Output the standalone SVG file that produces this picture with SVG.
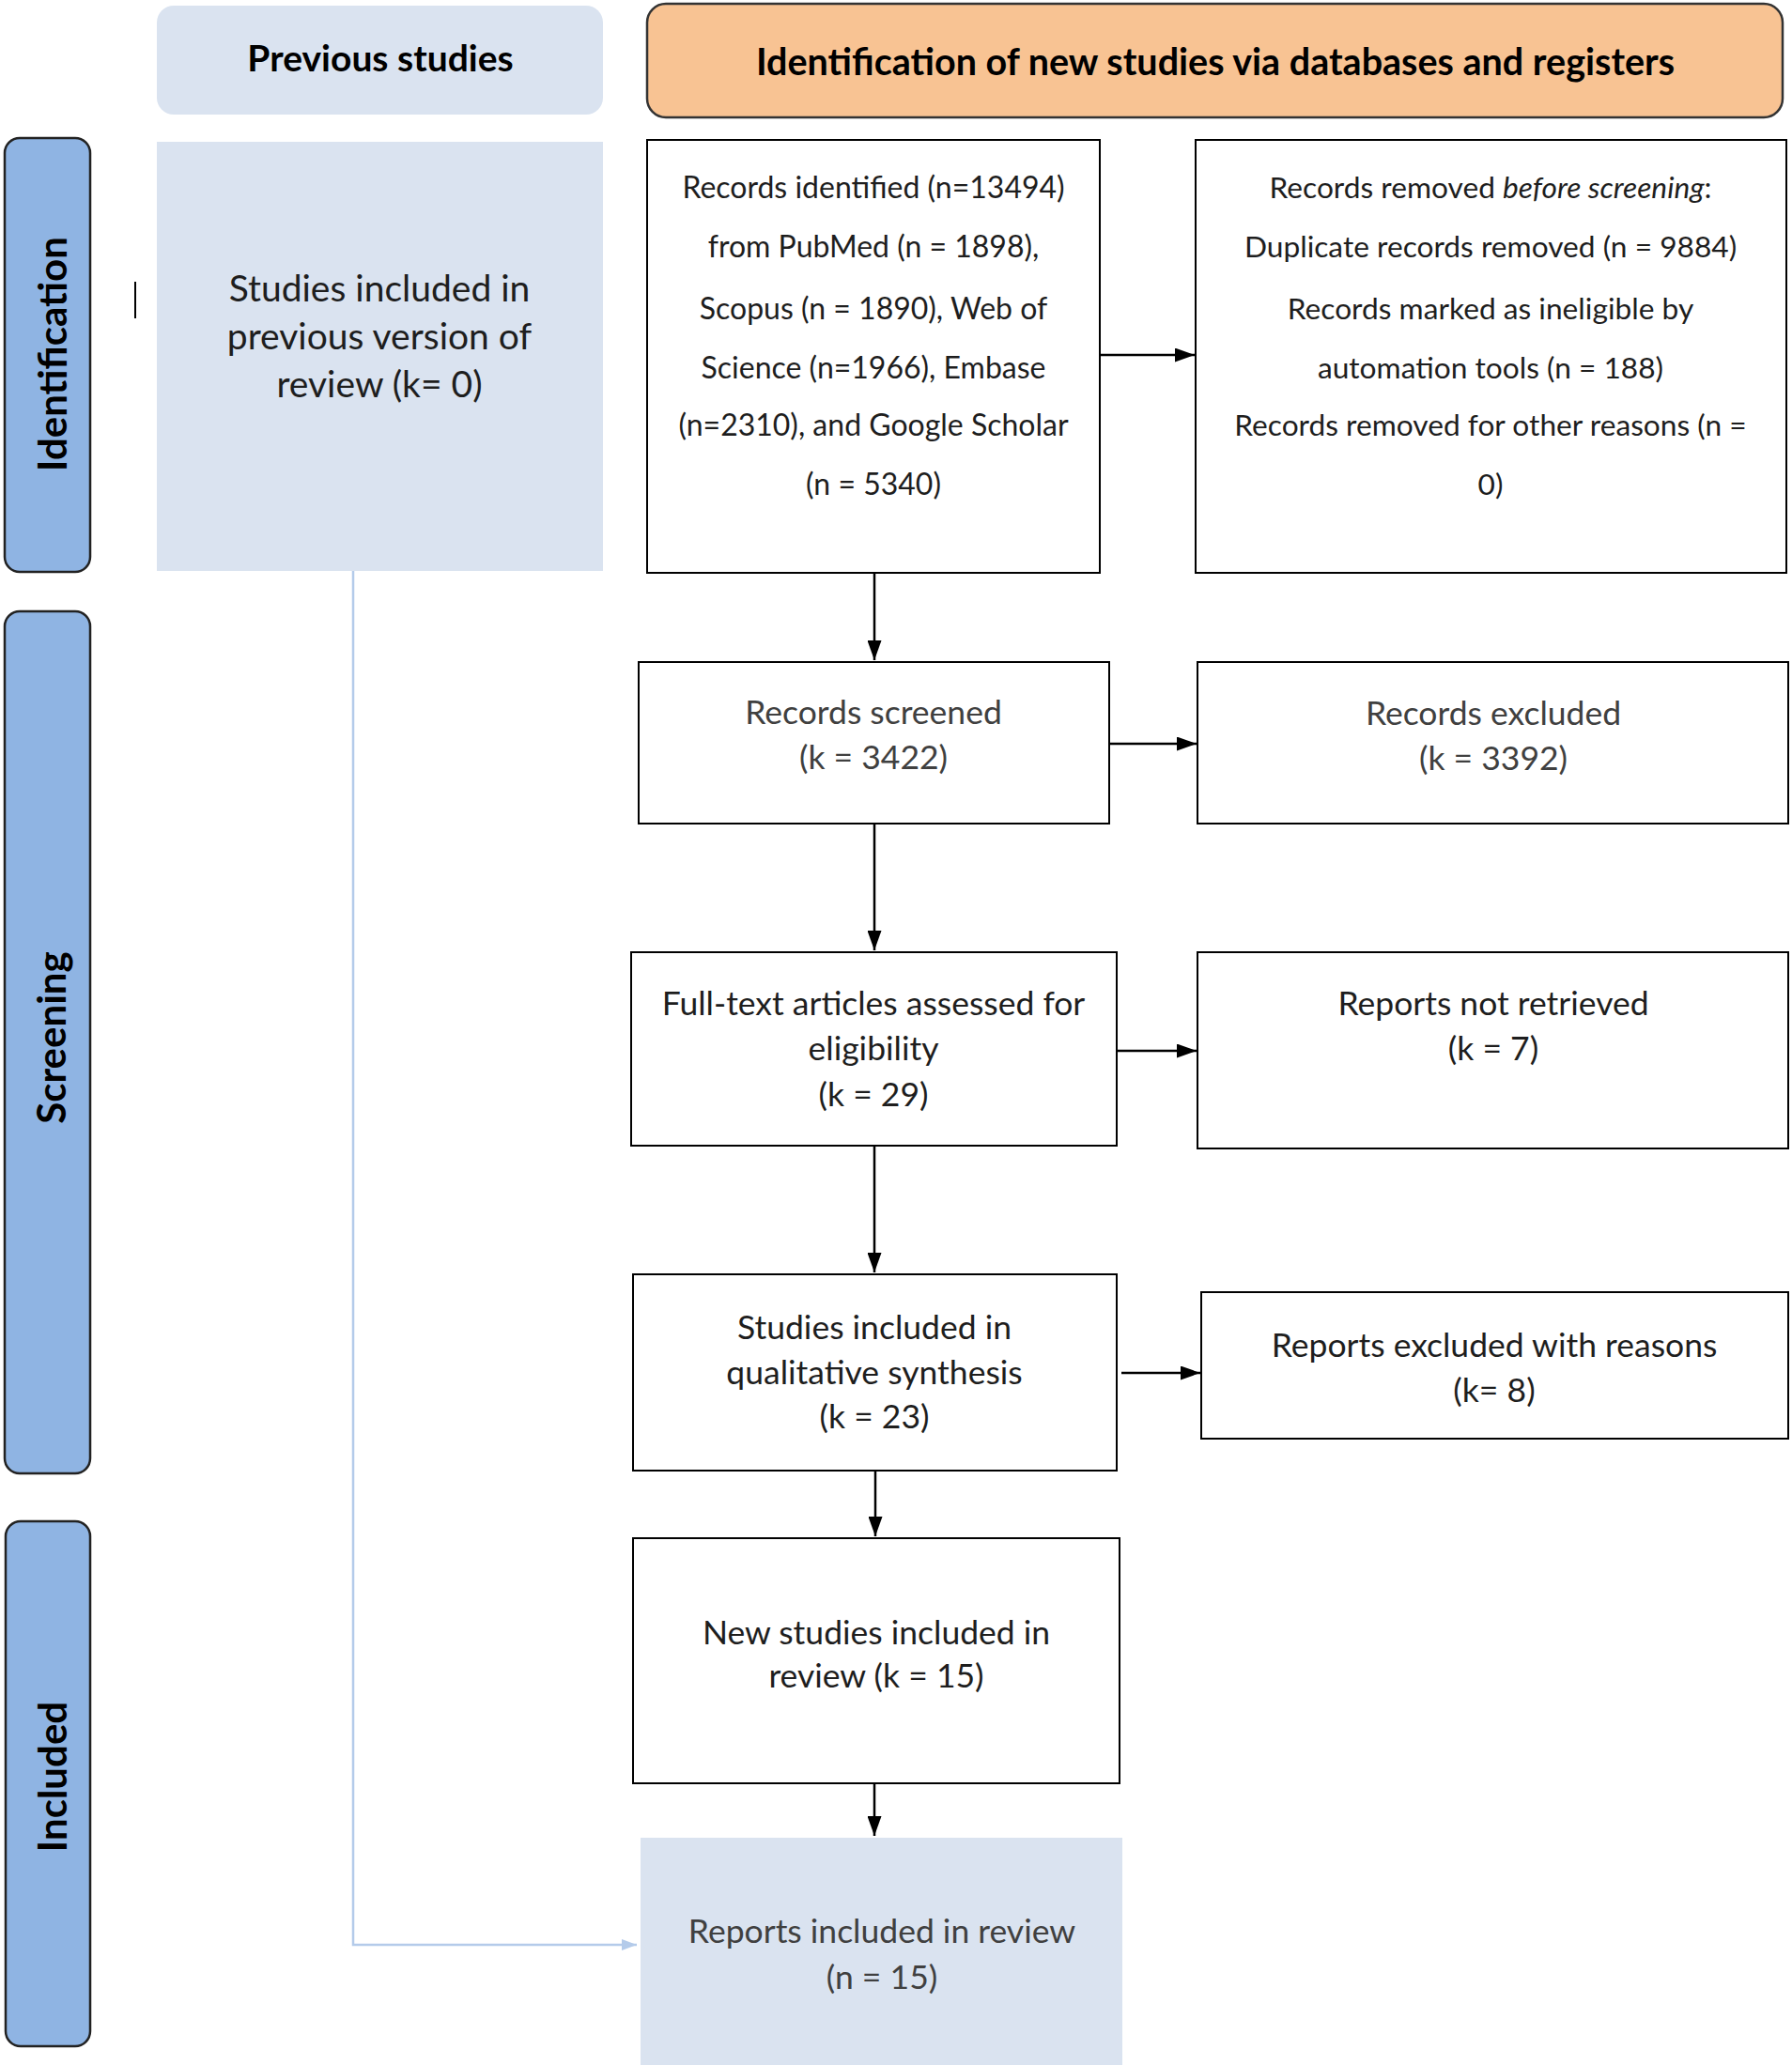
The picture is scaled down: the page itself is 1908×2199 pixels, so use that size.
<svg xmlns="http://www.w3.org/2000/svg" width="1908" height="2199" viewBox="0 0 1908 2199">
<defs>
<marker id="arr" markerUnits="userSpaceOnUse" markerWidth="21" markerHeight="15" viewBox="0 0 21 15" refX="21" refY="7.5" orient="auto"><path d="M0,0 L21,7.5 L0,15 z" fill="#000"/></marker>
<marker id="arrl" markerUnits="userSpaceOnUse" markerWidth="16" markerHeight="12" viewBox="0 0 16 12" refX="16" refY="6" orient="auto"><path d="M0,0 L16,6 L0,12 z" fill="#b4cbea"/></marker>
<style>
.t{font-family:Lato,"Open Sans","Liberation Sans",sans-serif;fill:#1e1e1e;text-anchor:middle}
.g{fill:#404040}
.b{font-weight:bold;fill:#000}
.box{fill:#fff;stroke:#000;stroke-width:2}
.lb{fill:#dae3f0}
.side{fill:#8fb4e3;stroke:#222;stroke-width:2.5}
.c{stroke:#000;stroke-width:2.5;fill:none}
</style>
</defs>
<rect width="1908" height="2199" fill="#fff"/>

<g id="side-identification">
<rect class="side" x="5" y="147" width="91" height="462" rx="16"/>
<text class="t b" font-size="42" transform="translate(71,377) rotate(-90)">Identification</text>
</g>
<g id="side-screening">
<rect class="side" x="5" y="651" width="91" height="918" rx="16"/>
<text class="t b" font-size="42" transform="translate(70,1105) rotate(-90)">Screening</text>
</g>
<g id="side-included">
<rect class="side" x="6" y="1620" width="90" height="559" rx="16"/>
<text class="t b" font-size="42" transform="translate(71,1892) rotate(-90)">Included</text>
</g>

<g id="hdr-previous">
<rect class="lb" x="167" y="6" width="475" height="116" rx="18"/>
<text class="t b" x="405" y="76" font-size="39">Previous studies</text>
</g>
<g id="hdr-new">
<rect x="689" y="4" width="1209" height="121" rx="20" fill="#f8c393" stroke="#333" stroke-width="2.5"/>
<text class="t b" x="1294" y="80" font-size="39.5">Identification of new studies via databases and registers</text>
</g>

<g id="prev-included">
<rect class="lb" x="167" y="151" width="475" height="457"/>
<text class="t" font-size="39" x="404" y="321">Studies included in</text>
<text class="t" font-size="39" x="404" y="372">previous version of</text>
<text class="t" font-size="39" x="404" y="423">review (k= 0)</text>
<line x1="144" y1="300" x2="144" y2="339" stroke="#000" stroke-width="2"/>
</g>

<g id="records-identified">
<rect class="box" x="689" y="149" width="482" height="461"/>
<g class="t" font-size="32">
<text x="930" y="210.5">Records identified (n=13494)</text>
<text x="930" y="273.5">from PubMed (n = 1898),</text>
<text x="930" y="339.5">Scopus (n = 1890), Web of</text>
<text x="930" y="402.5">Science (n=1966), Embase</text>
<text x="930" y="463.5">(n=2310), and Google Scholar</text>
<text x="930" y="526.5">(n = 5340)</text>
</g>
</g>

<g id="records-removed">
<rect class="box" x="1273" y="149" width="629" height="461"/>
<g class="t" font-size="31.7">
<text x="1587" y="210.5">Records removed <tspan font-style="italic">before screening</tspan>:</text>
<text x="1587" y="273.5">Duplicate records removed (n = 9884)</text>
<text x="1587" y="339.5">Records marked as ineligible by</text>
<text x="1587" y="402.5">automation tools (n = 188)</text>
<text x="1587" y="463.5">Records removed for other reasons (n =</text>
<text x="1587" y="526.5">0)</text>
</g>
</g>

<g id="records-screened">
<rect class="box" x="680" y="705" width="501" height="172"/>
<text class="t g" font-size="35.5" x="930" y="771">Records screened</text>
<text class="t g" font-size="35.5" x="930" y="819">(k = 3422)</text>
</g>
<g id="records-excluded">
<rect class="box" x="1275" y="705" width="629" height="172"/>
<text class="t g" font-size="35.5" x="1590" y="772">Records excluded</text>
<text class="t g" font-size="35.5" x="1590" y="820">(k = 3392)</text>
</g>

<g id="fulltext">
<rect class="box" x="672" y="1014" width="517" height="206"/>
<text class="t" font-size="35.5" x="930" y="1081">Full-text articles assessed for</text>
<text class="t" font-size="35.5" x="930" y="1129">eligibility</text>
<text class="t" font-size="35.5" x="930" y="1178">(k = 29)</text>
</g>
<g id="not-retrieved">
<rect class="box" x="1275" y="1014" width="629" height="209"/>
<text class="t" font-size="35.5" x="1590" y="1081">Reports not retrieved</text>
<text class="t" font-size="35.5" x="1590" y="1129">(k = 7)</text>
</g>

<g id="qualitative">
<rect class="box" x="674" y="1357" width="515" height="209"/>
<text class="t" font-size="35.5" x="931" y="1426">Studies included in</text>
<text class="t" font-size="35.5" x="931" y="1474">qualitative synthesis</text>
<text class="t" font-size="35.5" x="931" y="1521">(k = 23)</text>
</g>
<g id="excluded-reasons">
<rect class="box" x="1279" y="1376" width="625" height="156"/>
<text class="t" font-size="35.5" x="1591" y="1445">Reports excluded with reasons</text>
<text class="t" font-size="35.5" x="1591" y="1493">(k= 8)</text>
</g>

<g id="new-included">
<rect class="box" x="674" y="1638" width="518" height="261"/>
<text class="t" font-size="35.5" x="933" y="1751">New studies included in</text>
<text class="t" font-size="35.5" x="933" y="1797">review (k = 15)</text>
</g>

<g id="reports-included">
<rect class="lb" x="682" y="1957" width="513" height="242"/>
<text class="t g" font-size="35.5" x="939" y="2069">Reports included in review</text>
<text class="t g" font-size="35.5" x="939" y="2118">(n = 15)</text>
</g>

<g id="connectors">
<line class="c" x1="931" y1="610" x2="931" y2="703" marker-end="url(#arr)"/>
<line class="c" x1="1171" y1="378" x2="1272" y2="378" marker-end="url(#arr)"/>
<line class="c" x1="1181" y1="792" x2="1274" y2="792" marker-end="url(#arr)"/>
<line class="c" x1="931" y1="877" x2="931" y2="1012" marker-end="url(#arr)"/>
<line class="c" x1="1189" y1="1119" x2="1274" y2="1119" marker-end="url(#arr)"/>
<line class="c" x1="931" y1="1220" x2="931" y2="1355" marker-end="url(#arr)"/>
<line class="c" x1="1194" y1="1462" x2="1278" y2="1462" marker-end="url(#arr)"/>
<line class="c" x1="932" y1="1566" x2="932" y2="1636" marker-end="url(#arr)"/>
<line class="c" x1="931" y1="1899" x2="931" y2="1955" marker-end="url(#arr)"/>
<polyline points="376,608 376,2071 678,2071" fill="none" stroke="#b4cbea" stroke-width="2.5" marker-end="url(#arrl)"/>
</g>
</svg>
